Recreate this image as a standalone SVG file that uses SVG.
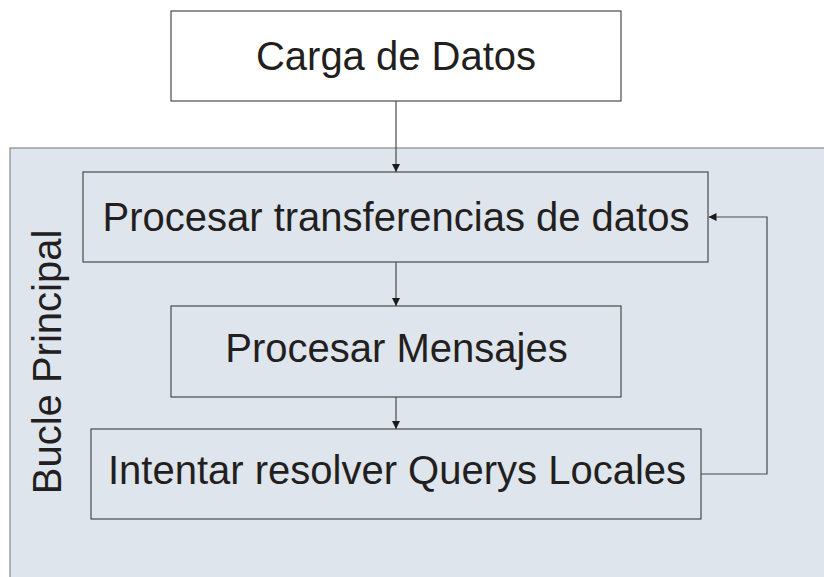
<svg xmlns="http://www.w3.org/2000/svg" width="824" height="577" viewBox="0 0 824 577">
  <style>
    .box { fill: #ffffff; stroke: #4a4a4a; stroke-width: 1.2; }
    .inner { fill: #dfe5ec; stroke: #4a4a4a; stroke-width: 1.2; }
    .label { font-family: "Liberation Sans", Arial, sans-serif; font-size: 40px; fill: #231f20; text-anchor: middle; }
    .conn { fill: none; stroke: #4a4a4a; stroke-width: 1.2; }
  </style>
  <defs>
    <marker id="arrow" viewBox="0 0 10 10" refX="10" refY="5" markerWidth="8" markerHeight="8" markerUnits="userSpaceOnUse" orient="auto">
      <path d="M0,0 L10,5 L0,10 z" fill="#1a1a1a"/>
    </marker>
  </defs>

  <rect width="824" height="577" fill="#ffffff"/>

  <!-- main loop panel -->
  <g id="bucle-principal">
    <rect x="10" y="148" width="830" height="440" fill="#dfe5ec" stroke="#8a8a8a" stroke-width="1.2"/>
    <text class="label" transform="translate(61,362) rotate(-90)">Bucle Principal</text>
  </g>

  <g id="carga-datos">
    <rect class="box" x="171" y="11" width="450" height="90"/>
    <text class="label" x="396" y="69.5">Carga de Datos</text>
  </g>

  <g id="procesar-transferencias">
    <rect class="inner" x="83" y="172" width="625" height="90"/>
    <text class="label" x="396" y="230.5">Procesar transferencias de datos</text>
  </g>

  <g id="procesar-mensajes">
    <rect class="inner" x="171" y="306" width="450" height="91"/>
    <text class="label" x="396.5" y="362">Procesar Mensajes</text>
  </g>

  <g id="resolver-querys">
    <rect class="inner" x="91" y="429" width="610" height="90"/>
    <text class="label" x="397" y="484">Intentar resolver Querys Locales</text>
  </g>

  <g id="connectors">
    <line class="conn" x1="396" y1="101" x2="396" y2="172" marker-end="url(#arrow)"/>
    <line class="conn" x1="396" y1="262" x2="396" y2="306" marker-end="url(#arrow)"/>
    <line class="conn" x1="396" y1="397" x2="396" y2="429" marker-end="url(#arrow)"/>
    <polyline class="conn" points="701,474 767,474 767,217 708.5,217" marker-end="url(#arrow)"/>
  </g>
</svg>
